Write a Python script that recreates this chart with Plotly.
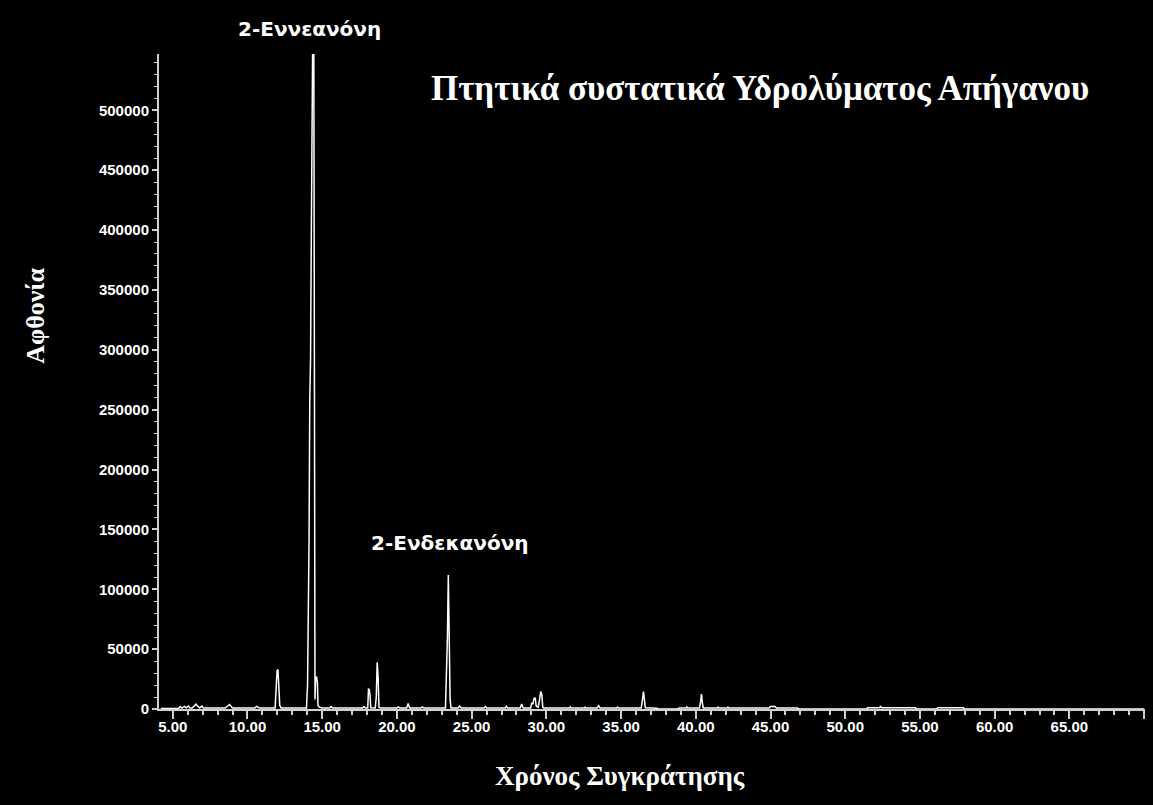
import plotly.graph_objects as go

# retention time (min) and abundance
time_min = [
    4.2, 5.4, 5.5, 5.6, 5.8, 5.9, 6.05, 6.15, 6.3, 6.55, 6.65, 6.8, 6.95, 7.05,
    8.5, 8.7, 8.8, 8.9, 9.0, 10.5, 10.6, 10.7, 10.8,
    11.85, 11.92, 11.98, 12.04, 12.1, 12.16, 12.25,
    13.95, 14.02, 14.07, 14.12, 14.17, 14.22, 14.27, 14.32, 14.36, 14.44,
    14.48, 14.52, 14.56, 14.62, 14.68, 14.72, 14.8, 15.0,
    15.5, 15.6, 15.7, 17.7, 17.8, 17.9,
    18.05, 18.1, 18.15, 18.2, 18.25, 18.55, 18.62, 18.68, 18.74, 18.8, 18.9,
    20.0, 20.1, 20.2, 20.65, 20.75, 20.85, 21.6, 21.7, 21.8,
    23.25, 23.32, 23.38, 23.44, 23.5, 23.56, 23.62,
    24.1, 24.2, 24.3, 25.85, 25.92, 26.0, 27.25, 27.32, 27.4,
    28.25, 28.35, 28.45, 28.95, 29.02, 29.1, 29.18, 29.26, 29.32, 29.45,
    29.55, 29.62, 29.7, 29.76, 29.85,
    31.55, 31.6, 31.65, 32.55, 32.6, 32.65, 33.4, 33.5, 33.6, 34.7, 34.75, 34.8,
    36.35, 36.42, 36.5, 36.56, 36.62, 37.4, 37.5, 38.8, 38.9,
    39.35, 39.4, 39.45, 40.25, 40.32, 40.38, 40.44, 40.5,
    41.45, 41.5, 41.55, 42.1, 42.15, 42.2,
    44.9, 45.0, 45.3, 45.4, 46.8, 46.9,
    51.4, 51.5, 52.3, 52.36, 52.42, 54.7, 54.8,
    56.1, 56.2, 57.9, 58.0, 70.0,
]
abundance = [
    500, 600, 2000, 800, 2200, 1000, 2500, 900, 800, 4000, 2500, 900, 2500, 800,
    800, 2500, 3800, 2200, 800, 800, 2200, 1500, 800,
    800, 15000, 32000, 33000, 19000, 3000, 800,
    800, 20000, 60000, 140000, 260000, 291000, 391000, 515000, 550000, 550000,
    27000, 8000, 26000, 27000, 22000, 3000, 1500, 800,
    800, 2000, 800, 800, 2000, 800,
    800, 17000, 16000, 12000, 1000, 800, 10000, 39000, 27000, 1500, 800,
    800, 1800, 800, 800, 4500, 900, 800, 1800, 800,
    800, 25000, 60000, 112000, 45000, 8000, 900,
    800, 2500, 900, 800, 2500, 800, 800, 2200, 800,
    800, 4200, 900, 800, 5000, 4000, 9000, 9000, 2500, 1500,
    8000, 14500, 12000, 1500, 800,
    800, 1800, 800, 800, 1500, 800, 800, 2800, 800, 800, 1500, 800,
    800, 7000, 14500, 8000, 1000, 600, 0, 0, 800,
    800, 1800, 800, 800, 6000, 12500, 5000, 900,
    800, 1500, 800, 800, 1500, 800,
    800, 2000, 2000, 800, 800, 0,
    0, 1000, 1000, 2500, 1000, 1000, 0,
    0, 1000, 1000, 0, 0,
]

x_tickvals = [5, 10, 15, 20, 25, 30, 35, 40, 45, 50, 55, 60, 65, 70]
x_ticktext = ["5.00", "10.00", "15.00", "20.00", "25.00", "30.00", "35.00",
              "40.00", "45.00", "50.00", "55.00", "60.00", "65.00", ""]

peak_names = ["2-Εννεανόνη", "2-Ενδεκανόνη"]
peak_label_x = [14.12, 23.56]
peak_label_y = [568000, 138600]

y_top = 547000

fig = go.Figure()
fig.add_trace(go.Scatter(x=time_min, y=abundance, mode="lines",
                         line=dict(color="white", width=1.5)))

axis_col = "#d0d0d0"
tick_font = dict(family="Liberation Sans", size=15, color="white", weight="bold")

fig.update_xaxes(range=[4.08, 70.06], showgrid=False, zeroline=False,
                 showline=True, linecolor=axis_col, linewidth=2,
                 ticks="outside", ticklen=8, tickwidth=1.5, tickcolor=axis_col,
                 tickvals=x_tickvals, ticktext=x_ticktext, tickfont=tick_font,
                 ticklabelstandoff=-5,
                 minor=dict(dtick=1, tick0=5, ticks="outside", ticklen=4,
                            tickcolor=axis_col, tickwidth=1.5, showgrid=False))
fig.update_yaxes(range=[0, y_top], showgrid=False, zeroline=False,
                 showline=True, linecolor=axis_col, linewidth=2,
                 ticks="outside", ticklen=5, tickwidth=1.5, tickcolor=axis_col,
                 dtick=50000, tick0=0, tickformat="d", tickfont=tick_font,
                 minor=dict(dtick=10000, ticks="outside", ticklen=3,
                            tickcolor=axis_col, tickwidth=1, showgrid=False))

# peak labels (the first one sits above the axes, so y goes through paper)
for name, px, py in zip(peak_names, peak_label_x, peak_label_y):
    fig.add_annotation(x=px, y=py / y_top, yref="paper", text=name,
                       showarrow=False, xanchor="center", yanchor="middle",
                       font=dict(family="DejaVu Sans", size=20, color="white",
                                 weight="bold"))

serif = dict(family="Liberation Serif", color="white", weight="bold")
fig.add_annotation(xref="paper", yref="paper", x=0.61, y=0.948,
                   xanchor="center", yanchor="middle",
                   text="Πτητικά συστατικά Υδρολύματος Απήγανου",
                   showarrow=False, font=dict(serif, size=35))
fig.add_annotation(xref="paper", yref="paper", x=-0.126, y=0.6,
                   xanchor="center", yanchor="middle",
                   text="Αφθονία", textangle=-90,
                   showarrow=False, font=dict(serif, size=26))
fig.add_annotation(xref="paper", yref="paper", x=0.468, y=-0.102,
                   xanchor="center", yanchor="middle",
                   text="Χρόνος Συγκράτησης",
                   showarrow=False, font=dict(serif, size=27))

fig.update_layout(width=1153, height=805, showlegend=False,
                  paper_bgcolor="black", plot_bgcolor="black",
                  margin=dict(l=159, r=8, t=54, b=96))

fig.write_html("out.html", config={"displayModeBar": False}, post_script=(
    "document.body.style.margin='0';"
    "document.body.style.background='black';"
    "document.body.style.overflow='hidden';"))
